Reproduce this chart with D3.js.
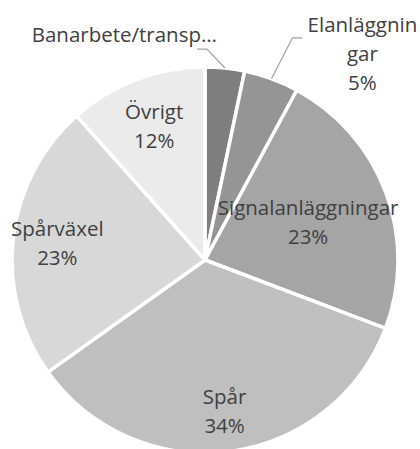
<!DOCTYPE html>
<html>
<head>
<meta charset="utf-8">
<script src="https://cdn.jsdelivr.net/npm/d3@7"></script>
<style>
  html, body { margin: 0; padding: 0; background: #ffffff; }
  svg { display: block; }
</style>
</head>
<body>
<script>
// ---- Data ----
const categories = ["Banarbete/transport", "Elanläggningar", "Signalanläggningar", "Spår", "Spårväxel", "Övrigt"];
const values = [3.3, 4.6, 22.9, 34.4, 23.3, 11.6];
const nameLines = [["Banarbete/transp…"], ["Elanläggnin", "gar"], ["Signalanläggningar"], ["Spår"], ["Spårväxel"], ["Övrigt"]];
const showPercent = [false, true, true, true, true, true];
const colors = ["#7f7f7f", "#959595", "#a5a5a5", "#bfbfbf", "#d8d8d8", "#ebebeb"];

// ---- Layout (presentation only) ----
const W = 420, H = 449;
const cx = 205, cy = 260, R = 193;
const fontSize = 20.5, lineH = 29;
// inside labels: radius factor of label centre
const insideR = [null, null, 0.57, 0.79, 0.77, 0.74];
// outside labels: elbow offset from slice edge, horizontal tail, text placement
const outside = {
  0: { elbow: [-18, -19], tail: -10, anchor: "end", tx: 10, ty: -7 },
  1: { elbow: [21, -41], tail: 10, anchor: "middle", tx: 70, ty: -6 }
};

const svg = d3.select("body").append("svg").attr("width", W).attr("height", H);
const g = svg.append("g").attr("transform", `translate(${cx},${cy})`);

const data = categories.map((c, i) => ({ name: c, value: values[i], i }));
const total = d3.sum(values);
const pie = d3.pie().value(d => d.value).sort(null);
const arcs = pie(data);
const arc = d3.arc().innerRadius(0).outerRadius(R);
const pct = d3.format(".0%");

g.selectAll("path.slice").data(arcs).enter().append("path")
  .attr("class", "slice")
  .attr("d", arc)
  .attr("fill", d => colors[d.data.i])
  .attr("stroke", "#ffffff")
  .attr("stroke-width", 3.5)
  .attr("stroke-linejoin", "round");

const textColor = "#404040";
const fontFamily = "'Open Sans', 'Noto Sans', sans-serif";

arcs.forEach(d => {
  const i = d.data.i;
  const lines = nameLines[i].slice();
  if (showPercent[i]) lines.push(pct(d.data.value / total));
  const mid = (d.startAngle + d.endAngle) / 2;
  if (insideR[i] != null) {
    const rr = insideR[i] * R;
    const x = rr * Math.sin(mid), y = -rr * Math.cos(mid);
    const t = g.append("text")
      .attr("text-anchor", "middle")
      .attr("font-family", fontFamily)
      .attr("font-size", fontSize)
      .attr("fill", textColor);
    const n = lines.length;
    lines.forEach((l, k) => {
      t.append("tspan").attr("x", x)
        .attr("y", y + (k - (n - 1) / 2) * lineH + fontSize * 0.36)
        .text(l);
    });
  } else {
    const o = outside[i];
    const px = R * Math.sin(mid), py = -R * Math.cos(mid);
    const ex = px + o.elbow[0], ey = py + o.elbow[1];
    const hx = ex + o.tail;
    g.append("path")
      .attr("d", `M${px},${py}L${ex},${ey}L${hx},${ey}`)
      .attr("fill", "none")
      .attr("stroke", "#a6a6a6")
      .attr("stroke-width", 1.3);
    const t = g.append("text")
      .attr("text-anchor", o.anchor)
      .attr("font-family", fontFamily)
      .attr("font-size", fontSize)
      .attr("fill", textColor);
    lines.forEach((l, k) => {
      t.append("tspan").attr("x", ex + o.tx)
        .attr("y", ey + o.ty + k * lineH)
        .text(l);
    });
  }
});
</script>
</body>
</html>
